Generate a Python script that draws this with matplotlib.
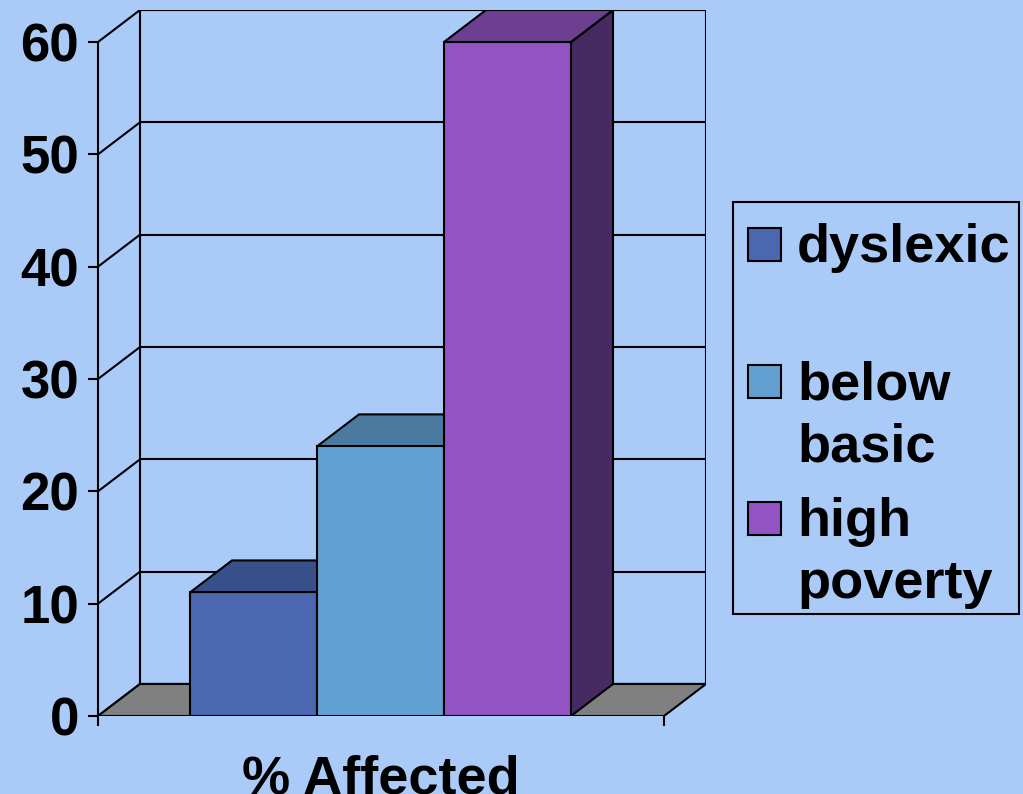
import matplotlib
matplotlib.use('Agg')
import matplotlib.pyplot as plt
from matplotlib.patches import Polygon, Rectangle

# ---- data ----
categories = ["dyslexic", "below basic", "high poverty"]
values = [11, 24, 60]
legend_labels = ["dyslexic", "below\nbasic", "high\npoverty"]
y_ticks = [0, 10, 20, 30, 40, 50, 60]
x_label = "% Affected"

# ---- styles ----
front_colors = ["#4A67AF", "#63A0D2", "#9353C3"]
top_colors = ["#37508A", "#4B7AA0", "#6D3F90"]
side_colors = ["#2F4477", "#41698C", "#472A62"]
bg = "#AACAF8"
floor_color = "#808080"
LW = 1.5

plt.rcParams['font.family'] = ['Liberation Sans', 'DejaVu Sans']
plt.rcParams['font.weight'] = 'bold'

W, H = 1023, 794
fig = plt.figure(figsize=(W / 100, H / 100), dpi=100, facecolor=bg)

ax_left, ax_right, ax_top, ax_bottom = 98, 706, 10, 716
ax = fig.add_axes([ax_left / W, 1 - ax_bottom / H,
                   (ax_right - ax_left) / W, (ax_bottom - ax_top) / H])
ax.set_facecolor('none')

ymax = y_ticks[-1]
px_per_y = (ax_bottom - 42) / ymax
dy = 32 / px_per_y            # depth offset in y units
bar_px = 127
floor_w = 566 / bar_px        # front floor width in bar-width units
gap_left = 92 / bar_px
dx = 42 / bar_px              # depth offset in x units

ax.set_xlim(0, floor_w + dx)
ax.set_ylim(0, ymax + dy)

# back wall
ax.add_patch(Rectangle((dx, dy), floor_w, ymax, fill=False, ec='k', lw=LW, zorder=1))
for v in y_ticks:
    ax.plot([dx, floor_w + dx], [v + dy, v + dy], color='k', lw=LW, zorder=1,
            solid_capstyle='butt')
    ax.plot([0, dx], [v, v + dy], color='k', lw=LW, zorder=1)

# floor
ax.add_patch(Polygon([(0, 0), (floor_w, 0), (floor_w + dx, dy), (dx, dy)],
                     closed=True, fc=floor_color, ec='k', lw=LW, zorder=2))

# bars
for i, v in enumerate(values):
    L = gap_left + i
    R = L + 1
    z = 3 + 3 * i
    ax.add_patch(Polygon([(R, 0), (R + dx, dy), (R + dx, v + dy), (R, v)],
                         closed=True, fc=side_colors[i], ec='k', lw=LW, zorder=z))
    ax.add_patch(Polygon([(L, v), (R, v), (R + dx, v + dy), (L + dx, v + dy)],
                         closed=True, fc=top_colors[i], ec='k', lw=LW, zorder=z + 1))
    ax.bar(L, v, width=1, align='edge', color=front_colors[i], edgecolor='k',
           lw=LW, zorder=z + 2)

# axes styling
for s in ['top', 'right', 'bottom']:
    ax.spines[s].set_visible(False)
ax.spines['left'].set_bounds(0, ymax)
ax.spines['left'].set_linewidth(LW)
ax.spines['left'].set_zorder(20)
ax.set_yticks(y_ticks)
ax.set_yticklabels([str(t) for t in y_ticks], fontsize=38, fontweight='bold')
ax.tick_params(axis='y', direction='out', length=7.5, width=LW, pad=6)
ax.set_xticks([0, floor_w])
ax.set_xticklabels([])
ax.tick_params(axis='x', direction='out', length=7.5, width=LW)

ax.annotate(x_label, xy=(floor_w / 2, 0), xytext=(0, -77), textcoords='offset pixels',
            ha='center', va='baseline', fontsize=39, fontweight='bold')

# legend (drawn manually to match layout)
def fx(x):
    return x / W

def fy(y):
    return 1 - y / H

fig.add_artist(Rectangle((fx(733), fy(614)), (1019 - 733) / W, (614 - 202) / H,
                         transform=fig.transFigure, fill=False, ec='k', lw=LW))
for i, lab in enumerate(legend_labels):
    cy = 244 + 137 * i
    fig.add_artist(Rectangle((fx(748), fy(cy + 16.5)), 33 / W, 33 / H,
                             transform=fig.transFigure, fc=front_colors[i],
                             ec='k', lw=LW))
    for j, line in enumerate(lab.split('\n')):
        fig.text(fx(797), fy(cy + 18 + 62 * j), line, ha='left', va='baseline',
                 fontsize=39, fontweight='bold')

fig.savefig('out.png', dpi=100, facecolor=bg)
